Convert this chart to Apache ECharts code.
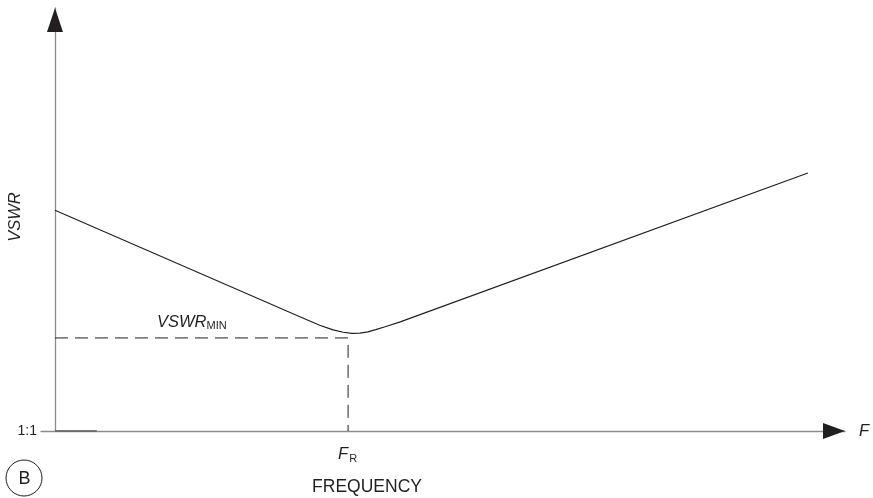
<!DOCTYPE html>
<html>
<head>
<meta charset="utf-8">
<script src="https://cdn.jsdelivr.net/npm/echarts@6/dist/echarts.min.js"></script>
<style>html,body{margin:0;padding:0;background:#fff;}#c{width:873px;height:498px;}</style>
</head>
<body>
<div id="c"></div>
<script>
// Data (arbitrary units)
const freq = [0, 31, 33.5, 35.2, 36.5, 37.6, 38.6, 39.6, 40.6, 41.8, 43.7, 95.3];
const vswr = [52.2, 27.0, 25.0, 23.9, 23.35, 23.1, 23.15, 23.45, 23.95, 24.65, 25.8, 61.0];
const fResonant = 37.1;
const vswrMin = 22.0;
const baseSegX = [0, 5.3];
const yTickLabels = {0: '1:1'};

const ink = '#231f20';
const axisGray = '#8c8c8c';
const font = 'Liberation Sans, Arial, sans-serif';

const chart = echarts.init(document.getElementById('c'), null, {renderer: 'canvas'});
chart.setOption({
  animation: false,
  backgroundColor: '#fff',
  grid: {left: 41, right: 28, top: 8, bottom: 67, outerBoundsMode: 'none', containLabel: false},
  xAxis: {
    type: 'value', min: -1.77, max: 100,
    name: 'F', nameLocation: 'end', nameGap: 14, nameMoveOverlap: false,
    nameTextStyle: {fontStyle: 'italic', fontSize: 16.5, color: ink, fontFamily: font},
    axisLine: {show: true, lineStyle: {color: axisGray, width: 1.3}},
    axisTick: {show: false}, axisLabel: {show: false}, splitLine: {show: false}
  },
  yAxis: {
    type: 'value', min: 0, max: 100, interval: 100,
    axisLine: {show: true, onZero: true, lineStyle: {color: axisGray, width: 1.3}},
    axisTick: {show: false},
    axisLabel: {margin: 4, fontSize: 14, color: ink, fontFamily: font,
      formatter: v => yTickLabels[v] || ''},
    splitLine: {show: false}
  },
  series: [
    {
      type: 'line', data: freq.map((x, i) => [x, vswr[i]]), smooth: false,
      symbol: 'none', lineStyle: {color: ink, width: 1.2}, z: 5
    },
    {
      type: 'line', data: [[0, vswrMin], [fResonant, vswrMin], [fResonant, 0]],
      symbol: 'none', lineStyle: {color: ink, width: 1, type: [13, 7]}, z: 4
    },
    {
      type: 'line', data: baseSegX.map(x => [x, 0]),
      symbol: 'none', lineStyle: {color: '#555', width: 1.3}, z: 3
    }
  ]
});

// Decorations: arrowheads placed via the axes' scales, and text labels
const yTop = chart.convertToPixel({xAxisIndex: 0, yAxisIndex: 0}, [0, 100]);
const xEnd = chart.convertToPixel({xAxisIndex: 0, yAxisIndex: 0}, [100, 0]);
const frPt = chart.convertToPixel({xAxisIndex: 0, yAxisIndex: 0}, [fResonant, 0]);
const minPt = chart.convertToPixel({xAxisIndex: 0, yAxisIndex: 0}, [0, vswrMin]);

chart.setOption({
  graphic: [
    {type: 'polygon', shape: {points: [[yTop[0], yTop[1]], [yTop[0] - 8, yTop[1] + 24], [yTop[0] + 8, yTop[1] + 24]]},
      style: {fill: ink}, z: 10},
    {type: 'polygon', shape: {points: [[xEnd[0], xEnd[1]], [xEnd[0] - 22, xEnd[1] - 8], [xEnd[0] - 22, xEnd[1] + 8]]},
      style: {fill: ink}, z: 10},
    {type: 'text', x: 15.5, y: 217, rotation: Math.PI / 2, z: 10,
      style: {text: 'VSWR', fill: ink, fontSize: 16.5, fontStyle: 'italic', fontFamily: font,
        align: 'center', verticalAlign: 'middle'}},
    {type: 'text', x: minPt[0] + 102, y: minPt[1] - 26, z: 10,
      style: {text: '{a|VSWR}{b|MIN}', fill: ink,
        rich: {a: {fontSize: 16.5, fontStyle: 'italic', fontFamily: font, color: ink},
               b: {fontSize: 11, fontFamily: font, color: ink, padding: [9, 0, 0, 0]}}}},
    {type: 'text', x: frPt[0] - 10, y: frPt[1] + 13, z: 10,
      style: {text: '{a|F}{b|R}', fill: ink,
        rich: {a: {fontSize: 16.5, fontStyle: 'italic', fontFamily: font, color: ink},
               b: {fontSize: 11, fontFamily: font, color: ink, padding: [9, 0, 0, 1]}}}},
    {type: 'text', x: frPt[0] - 36, y: frPt[1] + 47, z: 10,
      style: {text: 'FREQUENCY', fill: ink, fontSize: 17.5, fontFamily: font}},
    {type: 'circle', shape: {cx: 24, cy: 478, r: 18}, style: {fill: 'none', stroke: ink, lineWidth: 1}, z: 10},
    {type: 'text', x: 24.5, y: 479, z: 11,
      style: {text: 'B', fill: ink, fontSize: 18, fontFamily: font, align: 'center', verticalAlign: 'middle'}}
  ]
});
</script>
</body>
</html>
